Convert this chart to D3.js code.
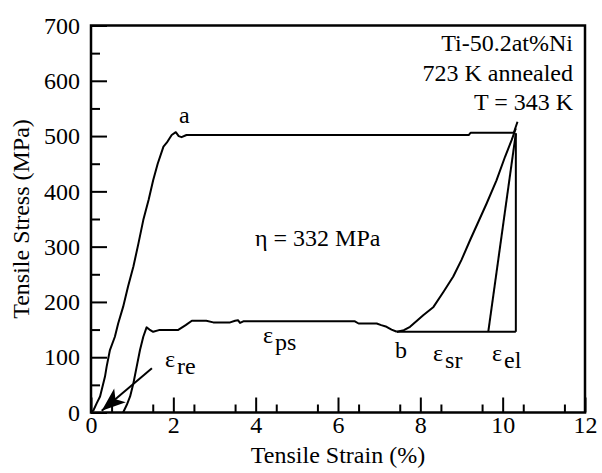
<!doctype html>
<html lang="en">
<head>
  <style>
    body { margin: 0; background: #fff; }
    svg text { font-family: "Liberation Serif", "Times New Roman", Times, serif; fill: #000; }
    .axis text { font-size: 24px; }
    .axis line { stroke: #000; stroke-width: 2; }
    .axis path { display: none; }
    .curve { fill: none; stroke: #000; stroke-width: 2; stroke-linejoin: round; }
    .lbl { font-size: 24px; }
  </style>
  <script src="https://d3js.org/d3.v7.min.js"></script>
</head>
<body>
  <script>
    // ticks
    const xTicks = [0, 2, 4, 6, 8, 10, 12];
    const yTicks = [0, 100, 200, 300, 400, 500, 600, 700];

    // first loading: strain (%), stress (MPa)
    const loadStrain = [0, 0.06, 0.14, 0.22, 0.34, 0.38, 0.46, 0.58, 0.66, 0.78, 0.9, 1.03, 1.15, 1.27, 1.4, 1.51, 1.62, 1.76, 1.84, 1.96, 2.06, 2.13, 2.2, 2.32, 9.18, 9.22, 10.27, 10.36];
    const loadStress = [0, 4, 17, 29, 65, 83, 113, 137, 161, 191, 228, 264, 305, 348, 385, 420, 450, 481, 488, 502, 507, 500, 498, 502, 502, 506, 506, 526];

    // reload after unloading: strain, stress
    const reloadStrain = [0.78, 0.87, 0.95, 1.03, 1.11, 1.19, 1.27, 1.35, 1.42, 1.51, 1.65, 2.11, 2.3, 2.45, 2.8, 2.97, 3.38, 3.5, 3.57, 3.62, 3.7, 6.41, 6.5, 6.94, 7.05, 7.18, 7.3, 7.43];
    const reloadStress = [0, 14, 29, 53, 83, 113, 137, 154, 150, 146, 149, 149, 158, 166, 166, 163, 163, 166, 167, 162, 165, 165, 161, 161, 158, 155, 150, 146];

    // heating recovery from b
    const recovStrain = [7.43, 7.6, 7.75, 8.07, 8.32, 8.56, 8.8, 9.0, 9.21, 9.41, 9.61, 9.85, 10.06, 10.22, 10.32];
    const recovStress = [146, 149, 155, 176, 191, 218, 246, 276, 312, 345, 378, 420, 463, 493, 514];

    // construction lines
    const baseStrain = [7.43, 10.32];
    const baseStress = [146, 146];
    const elasticStrain = [9.65, 10.32];
    const elasticStress = [146, 505];
    const vertStrain = [10.32, 10.32];
    const vertStress = [146, 505];

    // arrow for eps_re: tail, tip
    const arrowStrain = [1.48, 0.26];
    const arrowStress = [80, 3];

    const W = 602, H = 473;
    const x = d3.scaleLinear().domain([0, 12]).range([91, 585]);
    const y = d3.scaleLinear().domain([0, 700]).range([412.5, 25.5]);
    const serif = '"Liberation Serif", "Times New Roman", Times, serif';

    const svg = d3.select("body").append("svg")
        .attr("width", W)
        .attr("height", H)
        .attr("font-family", serif);

    function axisG(tr) {
      return svg.append("g").attr("class", "axis").attr("transform", tr);
    }
    axisG(`translate(0,${y(0)})`)
        .call(d3.axisBottom(x).tickValues(d3.range(0.5, 12, 1)).tickSize(-8).tickFormat(""));
    axisG(`translate(0,${y(0)})`)
        .call(d3.axisBottom(x).tickValues(xTicks).tickSize(-15).tickPadding(3).tickFormat(d3.format("d")));
    axisG(`translate(${x(0)},0)`)
        .call(d3.axisLeft(y).tickValues(d3.range(50, 700, 100)).tickSize(-9).tickFormat(""));
    axisG(`translate(${x(0)},0)`)
        .call(d3.axisLeft(y).tickValues(yTicks).tickSize(-16).tickPadding(11).tickFormat(d3.format("d")));
    svg.selectAll(".axis").attr("font-family", serif).attr("font-size", 24);

    // frame
    svg.append("rect")
        .attr("x", x(0))
        .attr("y", y(700))
        .attr("width", x(12) - x(0))
        .attr("height", y(0) - y(700))
        .attr("fill", "none")
        .attr("stroke", "#000")
        .attr("stroke-width", 2.5);

    const line = d3.line().x(d => x(d[0])).y(d => y(d[1]));
    const pairs = (a, b) => a.map((v, i) => [v, b[i]]);

    [[loadStrain, loadStress], [reloadStrain, reloadStress], [recovStrain, recovStress],
     [baseStrain, baseStress], [elasticStrain, elasticStress], [vertStrain, vertStress]]
      .forEach(([a, b]) => {
        svg.append("path").attr("class", "curve").attr("d", line(pairs(a, b)));
      });

    // arrow: shaft plus filled head built at the tip
    const tx = x(arrowStrain[1]), ty = y(arrowStress[1]);
    const sx = x(arrowStrain[0]), sy = y(arrowStress[0]);
    const ang = Math.atan2(ty - sy, tx - sx);
    const hl = 24, hw = 9;
    const bx = tx - hl * Math.cos(ang), by = ty - hl * Math.sin(ang);
    svg.append("path").attr("class", "curve")
        .attr("d", line(pairs(arrowStrain, arrowStress)));
    svg.append("path")
        .attr("fill", "#000")
        .attr("d", `M${tx},${ty}L${bx + hw * Math.sin(ang)},${by - hw * Math.cos(ang)}L${bx + 6 * Math.cos(ang)},${by + 6 * Math.sin(ang)}L${bx - hw * Math.sin(ang)},${by + hw * Math.cos(ang)}Z`);

    // axis titles
    svg.append("text")
        .attr("class", "lbl")
        .attr("x", (x(0) + x(12)) / 2)
        .attr("y", 463)
        .attr("text-anchor", "middle")
        .text("Tensile Strain (%)");
    svg.append("text")
        .attr("class", "lbl")
        .attr("transform", `translate(29,${(y(0) + y(700)) / 2}) rotate(-90)`)
        .attr("text-anchor", "middle")
        .text("Tensile Stress (MPa)");

    // info block
    const info = ["Ti-50.2at%Ni", "723 K annealed", "T = 343 K"];
    info.forEach((t, i) => {
      svg.append("text").attr("class", "lbl")
          .attr("x", 573).attr("y", 51 + i * 29.5)
          .attr("text-anchor", "end")
          .text(t);
    });

    // annotations
    svg.append("text").attr("class", "lbl").attr("x", 179).attr("y", 123).text("a");
    svg.append("text").attr("class", "lbl").attr("x", 395).attr("y", 358).text("b");
    svg.append("text").attr("class", "lbl").attr("x", 255).attr("y", 246).text("\u03b7 = 332 MPa");

    function eps(px, py, sub) {
      const t = svg.append("text").attr("class", "lbl").attr("x", px).attr("y", py);
      t.append("tspan").text("\u03b5");
      t.append("tspan").attr("dx", 2).attr("dy", 7).text(sub);
    }
    eps(165, 367, "re");
    eps(263, 343, "ps");
    eps(433, 361, "sr");
    eps(492, 361, "el");
  </script>
</body>
</html>
